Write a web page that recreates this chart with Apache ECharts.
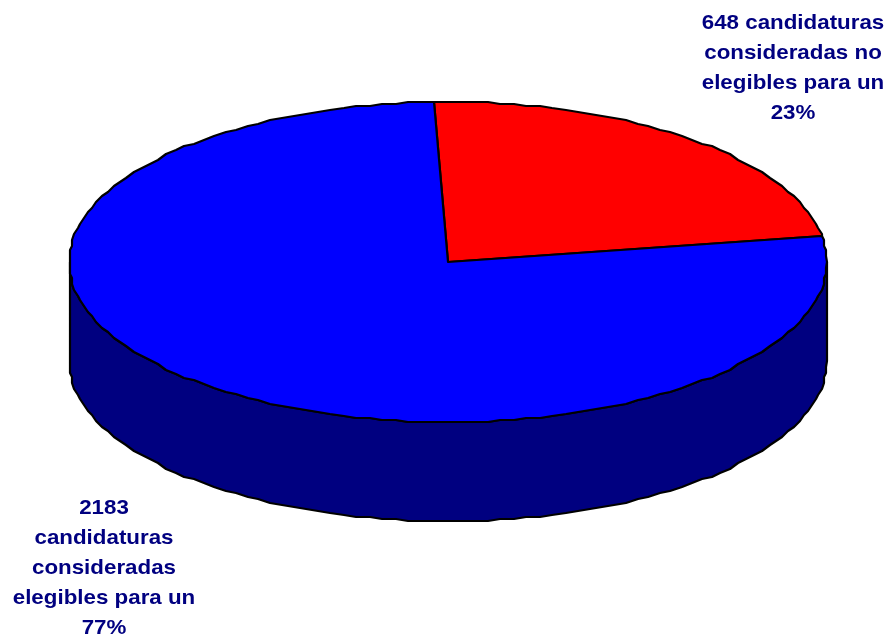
<!DOCTYPE html>
<html><head><meta charset="utf-8">
<style>html,body{margin:0;padding:0;background:#fff}#c{width:891px;height:638px}</style>
<script src="https://cdn.jsdelivr.net/npm/echarts@6/dist/echarts.min.js"></script>
</head><body><div id="c"></div>
<script>
const categories = ["no elegibles", "elegibles"];
const values = [648, 2183];
const sliceColors = ["#ff0000", "#0000ff"];
const wallColor = "#000080";
const labelNoElegibles = ["648 candidaturas", "consideradas no", "elegibles para un", "23%"];
const labelElegibles = ["2183", "candidaturas", "consideradas", "elegibles para un", "77%"];

const cx = 448, cy = 262, rx = 379, ry = 160, depth = 99, startDeg = -2.1, grid = 2, step = 2;
const total = values.reduce((a, b) => a + b, 0);
const rad = d => d * Math.PI / 180;
const snap = v => Math.round(v / grid) * grid;
const pt = (deg, off) => {
  const x = cx + rx * Math.sin(rad(deg)), y = cy - ry * Math.cos(rad(deg));
  return [Math.min(cx + rx, Math.max(cx - rx, snap(x))), snap(y) + (off || 0)];
};
// Sample on a shared angular grid so neighbouring outlines coincide exactly.
function arc(from, to, off) {
  const sign = to >= from ? 1 : -1;
  const out = [pt(from, off)];
  let k = sign > 0 ? Math.floor(from / step) + 1 : Math.ceil(from / step) - 1;
  while (sign * (k * step - to) < 0) { out.push(pt(k * step, off)); k += sign; }
  out.push(pt(to, off));
  return out;
}
const lineStyle = { stroke: "#000", lineWidth: 2.2, lineJoin: "round" };

function renderWall() {
  return {
    type: "polygon",
    shape: { points: arc(90, 270, 0).concat(arc(270, 90, depth)) },
    style: Object.assign({ fill: wallColor }, lineStyle)
  };
}
function renderSlice(params, api) {
  const i = params.dataIndex;
  let before = 0;
  for (let k = 0; k < i; k++) before += values[k];
  const a0 = startDeg + before / total * 360;
  const a1 = a0 + api.value(0) / total * 360;
  return {
    type: "polygon",
    shape: { points: [[cx, cy]].concat(arc(a0, a1, 0)) },
    style: Object.assign({ fill: sliceColors[i] }, lineStyle)
  };
}
const textStyle = (lines, x, y) => ({
  type: "text", x: x, y: y, scaleX: 1.09, silent: true,
  style: { text: lines.join("\n"), fill: wallColor, align: "center", verticalAlign: "top",
    font: "bold 20.5px 'Liberation Sans', Arial, sans-serif", lineHeight: 30 }
});

const chart = echarts.init(document.getElementById("c"), null, { renderer: "canvas" });
chart.setOption({
  animation: false,
  backgroundColor: "#fff",
  series: [
    { type: "custom", coordinateSystem: "none", silent: true, z: 1,
      data: [[total]], renderItem: renderWall },
    { type: "custom", coordinateSystem: "none", silent: true, z: 2,
      data: values.map((v, i) => ({ name: categories[i], value: [v] })), renderItem: renderSlice }
  ],
  graphic: [ textStyle(labelNoElegibles, 793, 8), textStyle(labelElegibles, 104, 493) ]
});
</script></body></html>
